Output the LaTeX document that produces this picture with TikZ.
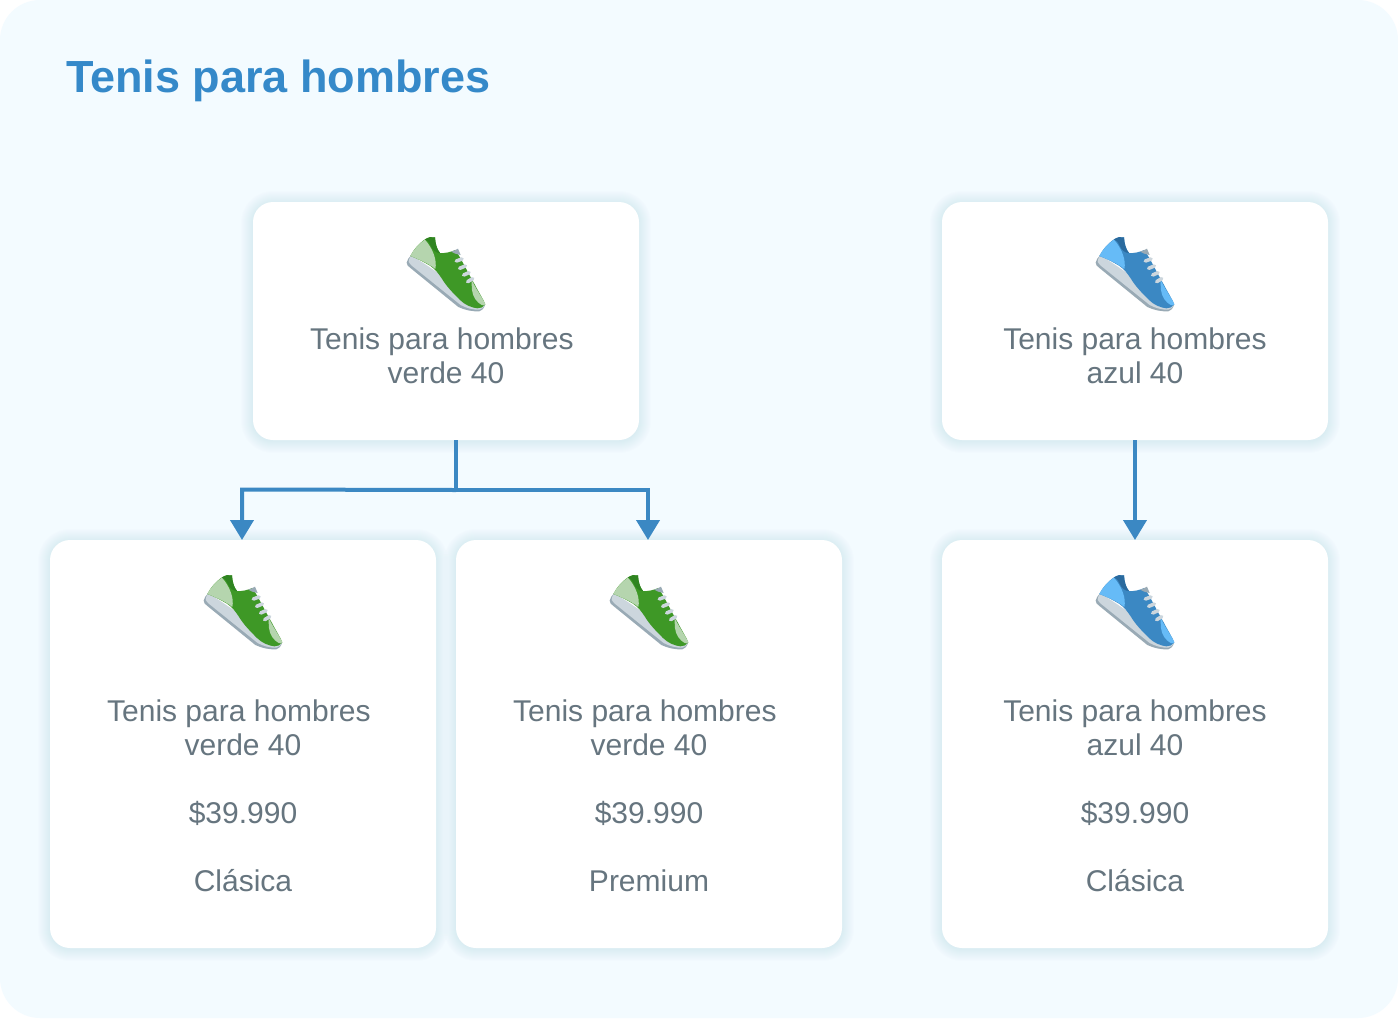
\documentclass[tikz,border=0pt]{standalone}
\usepackage{fontspec}
\setmainfont{Liberation Sans}
\usetikzlibrary{arrows.meta}
\definecolor{bgc}{HTML}{F3FBFF}
\definecolor{ttl}{HTML}{3589C9}
\definecolor{txt}{HTML}{66757F}
\definecolor{lnk}{HTML}{3B88C3}
\definecolor{shd}{HTML}{5FA3BF}
\definecolor{gmain}{HTML}{3E9826}
\definecolor{gdark}{HTML}{2F8420}
\definecolor{glight}{HTML}{B5D5AE}
\definecolor{bmain}{HTML}{3B88C3}
\definecolor{bdark}{HTML}{2A6A9E}
\definecolor{blight}{HTML}{66BBF7}
\definecolor{sole}{HTML}{CCD6DD}
\definecolor{soled}{HTML}{99AAB5}
\tikzset{
  card/.style={fill=white,rounded corners=20pt,inner sep=0pt,outer sep=0pt,minimum width=#1},
  cardtext/.style={text=txt,align=center,inner sep=0pt,anchor=north,font=\fontsize{30}{34}\selectfont},
  link/.style={draw=lnk,line width=4pt},
  linkarrow/.style={link,-{Triangle[width=23pt,length=20pt]}},
  lace/.style={draw=sole,line width=3.6pt,line cap=round}
}
\newcommand{\cardshadow}[4]{% x0 y0 x1 y1
  \foreach \i in {1,...,12}{
    \fill[shd,fill opacity=0.011,rounded corners={20pt+\i pt}]
      ({#1-\i},{#2-\i+1}) rectangle ({#3+\i},{#4+\i+1});
  }
}
\newcommand{\shoe}[5]{% x y main dark light
  \begin{scope}[shift={(#1,#2)},x=0.3333pt,y=-0.3333pt]
    \fill[soled] (50,113) .. controls (52,105) and (56,98) .. (62,92) -- (285,240)
      .. controls (282,250) and (275,258) .. (268,259)
      .. controls (250,260) and (225,256) .. (205,246) -- (60,128)
      .. controls (54,124) and (50,119) .. (50,113) -- cycle;
    \fill[sole] (56,111) .. controls (56,104) and (59,97) .. (64,90) -- (285,238)
      .. controls (282,246) and (276,253) .. (268,254)
      .. controls (250,255) and (228,249) .. (212,240) -- (64,121) -- cycle;
    \fill[#3] (105,43) .. controls (115,37) and (125,34) .. (135,37)
      .. controls (136,55) and (140,72) .. (150,84)
      .. controls (165,85) and (180,82) .. (196,75) -- (207,92)
      .. controls (224,122) and (242,158) .. (254,178)
      .. controls (267,203) and (281,225) .. (286,238)
      .. controls (280,246) and (272,251) .. (262,250)
      .. controls (245,248) and (225,240) .. (210,225)
      .. controls (190,205) and (170,185) .. (155,160)
      .. controls (145,145) and (135,132) .. (120,122)
      .. controls (100,110) and (80,100) .. (61,93)
      .. controls (70,75) and (87,55) .. (105,43) -- cycle;
    \fill[#5] (105,44) .. controls (87,55) and (70,75) .. (61,93)
      .. controls (85,102) and (115,115) .. (136,132)
      .. controls (142,105) and (128,70) .. (105,44) -- cycle;
    \fill[#5] (245,165) .. controls (260,195) and (278,220) .. (286,238)
      .. controls (282,241) and (279,242) .. (275,240)
      .. controls (260,232) and (248,215) .. (246,195)
      .. controls (245,185) and (245,175) .. (245,165) -- cycle;
    \fill[#4] (105,43) .. controls (115,37) and (125,34) .. (135,37)
      .. controls (136,55) and (140,72) .. (150,84)
      .. controls (138,84) and (128,76) .. (122,62)
      .. controls (118,52) and (112,46) .. (105,43) -- cycle;
    \fill[soled] (184,80) .. controls (190,78) and (197,75) .. (204,71) -- (212,90) -- (196,86) -- cycle;
    \draw[lace] (199,108) -- (216,102);
    \draw[lace] (209,130) -- (226,123);
    \draw[lace] (221,150) -- (237,143);
    \draw[lace] (233,170) -- (248,161);
  \end{scope}
}
\begin{document}
\begin{tikzpicture}[x=1pt,y=-1pt]
\useasboundingbox (0,0) rectangle (1398,1018);
\fill[white] (0,0) rectangle (1398,1018);
\fill[bgc,rounded corners=40pt] (0,0) rectangle (1398,1018);
\node[anchor=base west,inner sep=0pt,text=ttl,font=\fontsize{45}{50}\selectfont\bfseries] (title) at (66,92) {Tenis para hombres};

\cardshadow{253}{202}{639}{440}
\cardshadow{942}{202}{1328}{440}
\cardshadow{50}{540}{436}{948}
\cardshadow{456}{540}{842}{948}
\cardshadow{942}{540}{1328}{948}

\node[card=386pt,minimum height=238pt] (v1) at (446,321) {};
\node[card=386pt,minimum height=238pt] (a1) at (1135,321) {};
\node[card=386pt,minimum height=408pt] (v2) at (243,744) {};
\node[card=386pt,minimum height=408pt] (v3) at (649,744) {};
\node[card=386pt,minimum height=408pt] (a2) at (1135,744) {};

\shoe{390}{225}{gmain}{gdark}{glight}
\shoe{1079}{225}{bmain}{bdark}{blight}
\shoe{187}{563}{gmain}{gdark}{glight}
\shoe{593}{563}{gmain}{gdark}{glight}
\shoe{1079}{563}{bmain}{bdark}{blight}

\node[cardtext] (tv1) at (446,328) {Tenis para hombres\hspace*{8.2pt}\\verde 40};
\node[cardtext] (ta1) at (1135,328) {Tenis para hombres\\azul 40};
\node[cardtext] (tv2) at (243,700) {Tenis para hombres\hspace*{8.2pt}\\verde 40\\[34pt]\$39.990\\[34pt]Clásica};
\node[cardtext] (tv3) at (649,700) {Tenis para hombres\hspace*{8.2pt}\\verde 40\\[34pt]\$39.990\\[34pt]Premium};
\node[cardtext] (ta2) at (1135,700) {Tenis para hombres\\azul 40\\[34pt]\$39.990\\[34pt]Clásica};

\coordinate (j) at (456,490);
\coordinate (jl) at (242,489.5);
\coordinate (jr) at (648,490);
\draw[link] (j |- v1.south) -- (j);
\draw[linkarrow,line join=miter] (j) -- (jl) -- (jl |- v2.north);
\draw[linkarrow,line join=miter] (j) -- (jr) -- (jr |- v3.north);
\draw[linkarrow] (a1.south) -- (a2.north);
\end{tikzpicture}
\end{document}
